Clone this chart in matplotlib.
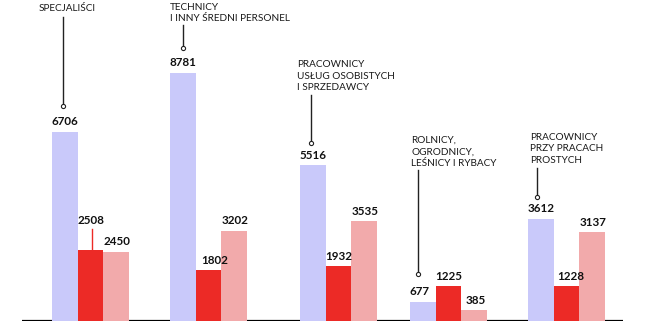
import matplotlib
matplotlib.use("Agg")
import matplotlib.pyplot as plt

# liczba osób (tys.) w grupach zawodów
categories = [
    "SPECJALIŚCI",
    "TECHNICY\nI INNY ŚREDNI PERSONEL",
    "PRACOWNICY\nUSŁUG OSOBISTYCH\nI SPRZEDAWCY",
    "ROLNICY,\nOGRODNICY,\nLEŚNICY I RYBACY",
    "PRACOWNICY\nPRZY PRACACH\nPROSTYCH",
]
series_a = [6706, 8781, 5516, 677, 3612]
series_b = [2508, 1802, 1932, 1225, 1228]
series_c = [2450, 3202, 3535, 385, 3137]

colors = ["#c9c9fa", "#ec2a26", "#f2aaab"]

W, H = 657, 323
base = 321                 # baseline, pixels from top
scale = 248 / 8781         # pixels per unit

fig = plt.figure(figsize=(W / 100, H / 100), dpi=100)
ax = fig.add_axes([0, (H - base) / H, 1, base / H])
ax.set_xlim(0, W)
ax.set_ylim(0, base / scale)
ax.axis("off")


def y_of(px):
    # pixel row (from top) -> data value
    return (base - px) / scale


group_left = [52, 170, 300, 410, 528]
bw = 25.6

ax.plot([22, 623], [0, 0], color="black", lw=1.6, zorder=1, solid_capstyle="butt")

label_nudge = {(1, 1): 6, (3, 2): 4, (4, 1): 4}
for i in range(len(categories)):
    vals = [series_a[i], series_b[i], series_c[i]]
    for j, v in enumerate(vals):
        x0 = group_left[i] + j * bw
        ax.bar(x0, v, width=bw, align="edge", color=colors[j], lw=0, zorder=2)
        dy = 10
        if (i, j) == (0, 1):
            dy = 30
        ax.annotate(str(v), (x0 + label_nudge.get((i, j), 0), v),
                    xytext=(0, dy), textcoords="offset pixels",
                    ha="left", va="center", fontsize=8.4,
                    fontweight="bold", family="Lato", color="#111111")

# red leader for the raised 2508 label
ax.plot([92, 92], [y_of(229), series_b[0]], color="#ec2a26", lw=1, zorder=3)

# category captions with leader lines
# (text x, first-line baseline y, line x, line top y, line bottom y)
captions = [
    (39, 11, 63, 17, 106),
    (170, 9.5, 183, 25, 48),
    (297, 67.5, 311, 95, 143),
    (411, 143, 418, 170, 274),
    (530, 140, 537, 168, 197),
]
line_step = 11.5
for cat, (tx, ty, lx, ly0, ly1) in zip(categories, captions):
    for k, line in enumerate(cat.split("\n")):
        ax.text(tx, y_of(ty + k * line_step), line, ha="left", va="baseline",
                fontsize=7.2, family="Lato", color="#1a1a1a")
    ax.plot([lx, lx], [y_of(ly0), y_of(ly1)], color="#222222", lw=1, zorder=3)
    ax.plot([lx], [y_of(ly1)], marker="o", ms=3, mfc="white", mec="#222222",
            mew=0.8, zorder=4)

fig.savefig("out.png", dpi=100)
